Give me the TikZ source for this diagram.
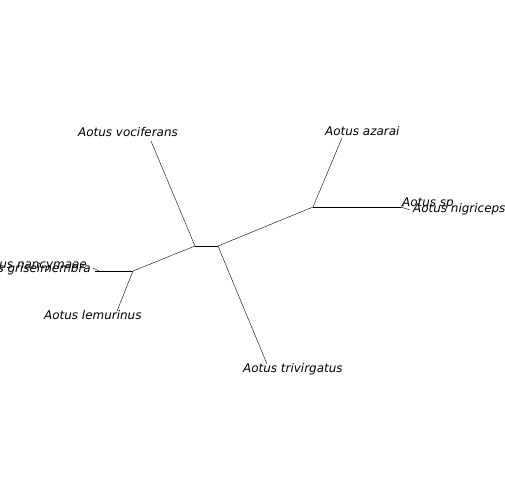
\documentclass[tikz,border=0pt]{standalone}
\usepackage{fontspec}
\setmainfont{DejaVu Sans}
\begin{document}
\begin{tikzpicture}[x=1bp,y=-1bp,
  edge/.style={line width=0.4bp, black},
  lab/.style={inner sep=0pt, font=\fontsize{12}{14}\selectfont\itshape}]
\useasboundingbox (0,0) rectangle (504,504);
% internal nodes
\coordinate (A) at (195,246);
\coordinate (B) at (218,246);
\coordinate (C) at (133,271);
\coordinate (D) at (313,207);
\coordinate (E) at (401,207);
\coordinate (F) at (99,271);
% tips
\coordinate (voc) at (151,141);
\coordinate (aza) at (342,138);
\coordinate (sp) at (404,205);
\coordinate (nig) at (410,210);
\coordinate (nan) at (93,268);
\coordinate (gri) at (95,271);
\coordinate (lem) at (117,311);
\coordinate (tri) at (267,364);
% edges
\draw[edge] (A) -- (B);
\draw[edge] (A) -- (voc);
\draw[edge] (A) -- (C);
\draw[edge] (C) -- (lem);
\draw[edge] (C) -- (F);
\draw[edge] (F) -- (nan);
\draw[edge] (F) -- (gri);
\draw[edge] (B) -- (tri);
\draw[edge] (B) -- (D);
\draw[edge] (D) -- (aza);
\draw[edge] (D) -- (E);
\draw[edge] (E) -- (sp);
\draw[edge] (E) -- (nig);
% labels
\node[lab, anchor=base west] (lvoc) at (78,137) {Aotus vociferans};
\node[lab, anchor=base west] (laza) at (325,136) {Aotus azarai};
\node[lab, anchor=base west] (lsp) at (402,206) {Aotus sp};
\node[lab, anchor=base west] (lnig) at (413,212) {Aotus nigriceps};
\node[lab, anchor=base east] (lnan) at (87,268) {Aotus nancymaae};
\node[lab, anchor=base east] (lgri) at (91,272) {Aotus griseimembra};
\node[lab, anchor=base west] (llem) at (44,319) {Aotus lemurinus};
\node[lab, anchor=base west] (ltri) at (243,372) {Aotus trivirgatus};
\end{tikzpicture}
\end{document}
